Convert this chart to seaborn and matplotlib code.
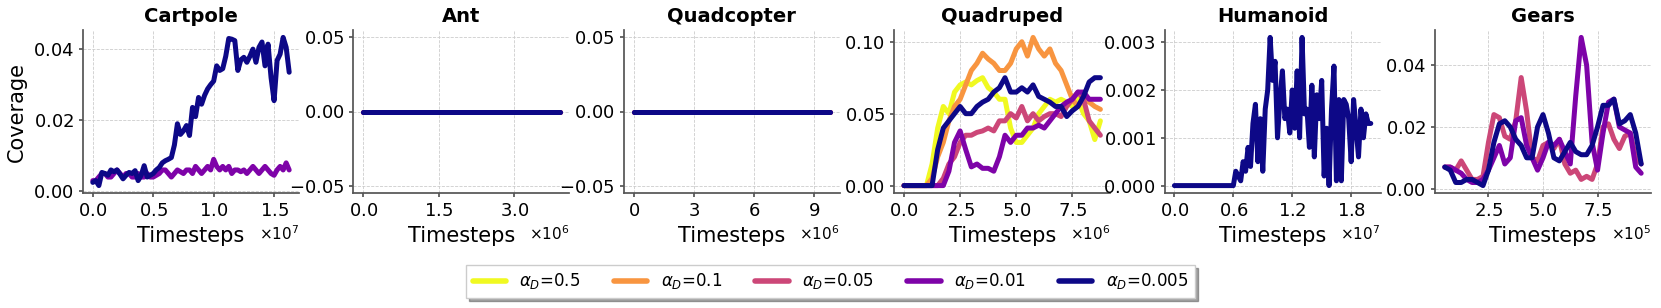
import matplotlib as mpl
import matplotlib.pyplot as plt
from matplotlib.lines import Line2D
import seaborn as sns
import numpy as np
import pandas as pd
plt.ioff()

# --- data -----------------------------------------------------------------
alphas = ["0.5", "0.1", "0.05", "0.01", "0.005"]

cartpole_steps = np.arange(66) * 2.5e5
cartpole = {
    "0.01": [0.003, 0.003, 0.004, 0.005, 0.005, 0.004, 0.004, 0.005, 0.006, 0.005,
             0.004, 0.005, 0.005, 0.004, 0.004, 0.005, 0.004, 0.004, 0.005, 0.004,
             0.004, 0.0045, 0.005, 0.006, 0.006, 0.005, 0.004, 0.005, 0.006, 0.0055,
             0.005, 0.006, 0.006, 0.005, 0.007, 0.006, 0.005, 0.006, 0.007, 0.006,
             0.009, 0.007, 0.006, 0.007, 0.006, 0.007, 0.005, 0.006, 0.006, 0.0055,
             0.006, 0.005, 0.006, 0.007, 0.006, 0.005, 0.006, 0.007, 0.006, 0.005,
             0.0045, 0.006, 0.007, 0.006, 0.008, 0.006],
    "0.005": [0.0025, 0.0030, 0.0016, 0.0053, 0.0050, 0.0045, 0.0060, 0.0055, 0.0060, 0.0048,
              0.0035, 0.0045, 0.0053, 0.0050, 0.0058, 0.0030, 0.0045, 0.0072, 0.0040, 0.0045,
              0.0050, 0.0060, 0.0067, 0.0080, 0.0086, 0.0090, 0.0095, 0.0130, 0.0190, 0.0160,
              0.0170, 0.0185, 0.0157, 0.0236, 0.0210, 0.0264, 0.0245, 0.0270, 0.0288, 0.0300,
              0.0310, 0.0353, 0.0340, 0.0345, 0.0380, 0.0430, 0.0428, 0.0424, 0.0340, 0.0370,
              0.0377, 0.0363, 0.0380, 0.0400, 0.0363, 0.0405, 0.0420, 0.0353, 0.0414, 0.0320,
              0.0255, 0.0368, 0.0386, 0.0433, 0.0405, 0.0335],
}

ant_steps = np.linspace(0, 3.9e6, 14)
ant = {a: [0.0] * 14 for a in alphas}

quadcopter_steps = np.linspace(0, 9.8e6, 14)
quadcopter = {a: [0.0] * 14 for a in alphas}

quadruped_steps = np.arange(36) * 2.5e5
quadruped = {
    "0.5": [0, 0, 0, 0, 0, 0.015, 0.040, 0.055, 0.050, 0.065, 0.070, 0.072, 0.070, 0.073,
            0.075, 0.068, 0.065, 0.060, 0.060, 0.040, 0.030, 0.030, 0.035, 0.040, 0.050,
            0.055, 0.060, 0.058, 0.060, 0.058, 0.055, 0.060, 0.050, 0.045, 0.032, 0.045],
    "0.1": [0, 0, 0, 0, 0, 0.005, 0.020, 0.030, 0.045, 0.055, 0.060, 0.070, 0.080, 0.085,
            0.092, 0.088, 0.085, 0.080, 0.080, 0.085, 0.095, 0.100, 0.090, 0.103, 0.095,
            0.090, 0.095, 0.085, 0.080, 0.070, 0.060, 0.055, 0.060, 0.058, 0.055, 0.053],
    "0.05": [0, 0, 0, 0, 0, 0, 0, 0.005, 0.015, 0.020, 0.030, 0.035, 0.035, 0.037,
             0.038, 0.040, 0.038, 0.045, 0.045, 0.050, 0.047, 0.055, 0.045, 0.050, 0.045,
             0.048, 0.050, 0.050, 0.048, 0.055, 0.060, 0.065, 0.060, 0.045, 0.040, 0.035],
    "0.01": [0, 0, 0, 0, 0, 0, 0, 0, 0.010, 0.030, 0.038, 0.025, 0.013, 0.015,
             0.012, 0.012, 0.010, 0.020, 0.035, 0.030, 0.035, 0.035, 0.040, 0.040, 0.042,
             0.040, 0.045, 0.050, 0.055, 0.058, 0.060, 0.065, 0.065, 0.060, 0.060, 0.060],
    "0.005": [0, 0, 0, 0, 0, 0, 0.025, 0.040, 0.045, 0.050, 0.055, 0.050, 0.050, 0.055,
              0.058, 0.060, 0.065, 0.068, 0.075, 0.065, 0.065, 0.068, 0.065, 0.070, 0.062,
              0.060, 0.058, 0.055, 0.055, 0.048, 0.052, 0.055, 0.062, 0.072, 0.075, 0.075],
}

humanoid_steps = np.arange(81) * 2.5e5
humanoid = {
    "0.005": [0.0] * 24 + [
        0.0000, 0.0003, 0.0002, 0.0001, 0.0005, 0.0003, 0.0008, 0.0004, 0.0013, 0.0017,
        0.0005, 0.0014, 0.0003, 0.0016, 0.0020, 0.0031, 0.0022, 0.0026, 0.0010, 0.0018,
        0.0024, 0.0014, 0.0016, 0.0011, 0.0020, 0.0012, 0.0024, 0.0010, 0.0031, 0.0015,
        0.0016, 0.0008, 0.0021, 0.0006, 0.0019, 0.0014, 0.0022, 0.0002, 0.0012, 0.0000,
        0.0016, 0.0025, 0.0001, 0.0018, 0.0001, 0.0018, 0.0017, 0.0014, 0.0005, 0.0018,
        0.0012, 0.0006, 0.0016, 0.0010, 0.0015, 0.0013, 0.0013],
}

gears_steps = 0.5e5 + np.arange(37) * 0.25e5
gears = {
    "0.05": [0.007, 0.007, 0.006, 0.009, 0.006, 0.003, 0.003, 0.004, 0.015, 0.024,
             0.023, 0.017, 0.016, 0.022, 0.036, 0.025, 0.010, 0.009, 0.014, 0.015,
             0.013, 0.016, 0.008, 0.005, 0.006, 0.003, 0.004, 0.003, 0.008, 0.020,
             0.021, 0.016, 0.013, 0.017, 0.018, 0.010, 0.008],
    "0.01": [0.007, 0.007, 0.006, 0.005, 0.003, 0.002, 0.002, 0.003, 0.006, 0.010,
             0.014, 0.008, 0.010, 0.022, 0.023, 0.014, 0.010, 0.006, 0.010, 0.015,
             0.014, 0.016, 0.012, 0.008, 0.030, 0.049, 0.040, 0.015, 0.006, 0.018,
             0.028, 0.029, 0.020, 0.019, 0.018, 0.007, 0.005],
    "0.005": [0.007, 0.006, 0.002, 0.002, 0.003, 0.003, 0.002, 0.001, 0.006, 0.015,
              0.021, 0.022, 0.020, 0.016, 0.014, 0.010, 0.010, 0.020, 0.024, 0.018,
              0.010, 0.009, 0.012, 0.015, 0.012, 0.011, 0.011, 0.014, 0.020, 0.027,
              0.027, 0.029, 0.021, 0.022, 0.024, 0.018, 0.008],
}

panels = [
    ("Cartpole", cartpole_steps, cartpole, [0, 0.5e7, 1.0e7, 1.5e7], [0.0, 0.02, 0.04]),
    ("Ant", ant_steps, ant, [0, 1.5e6, 3.0e6], [-0.05, 0.0, 0.05]),
    ("Quadcopter", quadcopter_steps, quadcopter, [0, 3e6, 6e6, 9e6], [-0.05, 0.0, 0.05]),
    ("Quadruped", quadruped_steps, quadruped, [0, 2.5e6, 5.0e6, 7.5e6], [0.0, 0.05, 0.10]),
    ("Humanoid", humanoid_steps, humanoid, [0, 0.6e7, 1.2e7, 1.8e7], [0.0, 0.001, 0.002, 0.003]),
    ("Gears", gears_steps, gears, [2.5e5, 5.0e5, 7.5e5], [0.0, 0.02, 0.04]),
]

# --- style ----------------------------------------------------------------
sns.set_theme(style="ticks", rc={"axes.formatter.use_mathtext": True,
                                 "axes.edgecolor": "#555555",
                                 "text.color": "black",
                                 "axes.labelcolor": "black",
                                 "xtick.color": "black",
                                 "ytick.color": "black"})
plt.rcParams['font.family'] = ['DejaVu Sans']

cmap = mpl.colormaps['plasma']
palette = {a: cmap(v) for a, v in zip(alphas, np.linspace(1, 0, 5))}

fig = plt.figure(figsize=(16.61, 3.08), dpi=100)
W, H = 1661, 308

for i, (title, steps, series, xt, yt) in enumerate(panels):
    left = 83 + i * 270.4
    ax = fig.add_axes([left / W, 1 - 193 / H, 216 / W, 163 / H])
    rows = []
    for a in alphas:
        if a in series:
            rows.append(pd.DataFrame({"step": steps, "coverage": series[a], "alpha": a}))
    df = pd.concat(rows, ignore_index=True)
    order = [a for a in alphas if a in series]
    sns.lineplot(data=df, x="step", y="coverage", hue="alpha", hue_order=order,
                 palette=palette, estimator=None, linewidth=3.6, legend=False, ax=ax)
    ax.set_title(title, fontsize=14, fontweight="bold")
    ax.set_xticks(xt)
    ax.set_yticks(yt)
    ax.ticklabel_format(style="sci", axis="x", scilimits=(0, 0), useMathText=True)
    ax.tick_params(labelsize=13, length=3, color="#555555")
    ax.xaxis.get_offset_text().set_fontsize(11)
    ax.set_xlabel("Timesteps", fontsize=15)
    ax.set_ylabel("Coverage" if i == 0 else "", fontsize=15)
    ax.grid(True, linestyle="--", linewidth=0.6, color="#cccccc")
    sns.despine(ax=ax)

handles = [Line2D([], [], color=palette[a], linewidth=4) for a in alphas]
labels = [r"$\alpha_D$=" + a for a in alphas]
fig.legend(handles, labels, loc="lower center", bbox_to_anchor=(0.5, 0.005),
           ncol=5, fontsize=12, frameon=True, shadow=True, fancybox=False,
           handlelength=2.0, columnspacing=2.0)

fig.savefig("out.png", dpi=100)
